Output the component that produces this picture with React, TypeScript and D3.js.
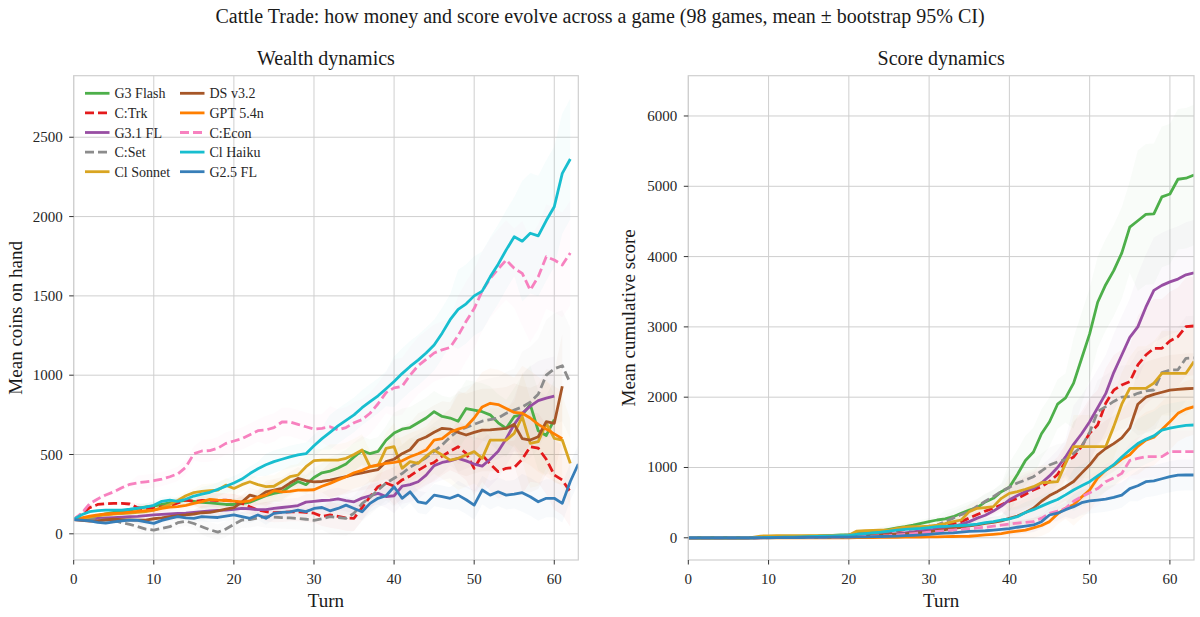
import React, {useEffect, useRef} from 'react'
import * as d3 from 'd3'

// Wealth: mean coins on hand per turn (index = turn)
const wealthG3Flash = [90, 95, 105, 115, 125, 135, 140, 150, 160, 170, 175, 185, 195, 203, 212, 205, 198, 195, 190, 185, 185, 190, 200, 220, 240, 255, 265, 300, 330, 310, 355, 385, 395, 415, 440, 485, 525, 505, 520, 590, 635, 660, 670, 700, 730, 770, 740, 730, 710, 790, 780, 770, 750, 700, 665, 740, 750, 815, 650, 620, 720]
const wealthCTrk = [90, 125, 165, 185, 190, 192, 192, 188, 165, 155, 160, 170, 175, 195, 213, 205, 210, 213, 210, 213, 205, 192, 170, 150, 140, 133, 135, 139, 139, 135, 130, 110, 119, 110, 100, 98, 165, 234, 297, 320, 300, 340, 365, 400, 430, 450, 490, 520, 549, 507, 413, 497, 440, 392, 413, 418, 470, 549, 540, 470, 371, 339, 265]
const wealthG31FL = [90, 88, 92, 98, 100, 102, 105, 108, 110, 115, 119, 122, 125, 128, 130, 135, 140, 145, 148, 150, 155, 160, 158, 152, 152, 160, 166, 172, 178, 200, 205, 210, 213, 220, 210, 202, 225, 240, 255, 235, 240, 300, 310, 328, 370, 430, 450, 460, 476, 460, 440, 427, 470, 520, 600, 690, 760, 805, 840, 855, 868]
const wealthCSet = [90, 95, 92, 88, 86, 86, 70, 60, 45, 30, 24, 35, 45, 70, 80, 65, 45, 25, 11, 30, 60, 87, 90, 100, 108, 105, 102, 100, 97, 92, 85, 95, 108, 103, 98, 130, 190, 230, 276, 320, 350, 380, 420, 450, 480, 520, 560, 610, 650, 670, 690, 710, 720, 730, 760, 780, 800, 830, 880, 1000, 1040, 1060, 950]
const wealthClSonnet = [90, 95, 105, 115, 120, 125, 128, 130, 135, 140, 150, 165, 185, 210, 240, 260, 268, 272, 276, 307, 286, 310, 328, 310, 297, 300, 330, 360, 370, 423, 461, 465, 465, 465, 476, 500, 528, 423, 430, 539, 549, 413, 455, 444, 490, 528, 497, 465, 476, 497, 518, 476, 591, 591, 591, 633, 738, 570, 581, 697, 602, 591, 444]
const wealthDSv32 = [90, 85, 80, 82, 88, 92, 90, 88, 86, 87, 95, 100, 108, 115, 119, 125, 133, 135, 145, 155, 165, 200, 244, 230, 265, 275, 286, 320, 349, 335, 328, 330, 339, 350, 360, 375, 385, 395, 405, 455, 470, 505, 530, 590, 610, 640, 665, 660, 640, 623, 640, 654, 655, 660, 665, 690, 600, 591, 612, 707, 697, 930]
const wealthGPT54n = [90, 100, 112, 120, 125, 128, 132, 136, 142, 146, 150, 160, 168, 172, 180, 192, 203, 217, 212, 210, 206, 202, 208, 230, 244, 272, 265, 268, 276, 276, 278, 300, 318, 340, 360, 385, 400, 423, 435, 444, 450, 460, 486, 505, 528, 591, 600, 640, 660, 675, 730, 800, 823, 815, 790, 765, 760, 730, 690, 660, 630, 600]
const wealthCEcon = [90, 130, 190, 220, 245, 265, 290, 312, 322, 328, 335, 345, 360, 378, 420, 505, 522, 525, 540, 570, 585, 600, 625, 650, 655, 670, 705, 705, 690, 675, 660, 665, 675, 655, 670, 700, 720, 760, 820, 890, 920, 930, 1000, 1060, 1100, 1140, 1160, 1175, 1250, 1340, 1420, 1530, 1610, 1670, 1726, 1674, 1642, 1537, 1621, 1747, 1726, 1695, 1770]
const wealthClHaiku = [90, 120, 140, 146, 150, 150, 150, 155, 162, 168, 180, 205, 212, 205, 218, 238, 250, 262, 280, 300, 320, 345, 380, 410, 435, 455, 470, 485, 497, 505, 555, 600, 640, 680, 715, 750, 795, 833, 870, 915, 960, 1010, 1055, 1095, 1140, 1190, 1265, 1350, 1415, 1450, 1500, 1530, 1620, 1700, 1790, 1873, 1845, 1895, 1878, 1975, 2062, 2272, 2363]
const wealthG25FL = [90, 86, 82, 72, 68, 76, 82, 87, 85, 75, 66, 85, 98, 108, 100, 98, 108, 105, 103, 112, 119, 108, 98, 119, 98, 129, 135, 139, 150, 140, 160, 166, 145, 160, 181, 160, 139, 192, 224, 240, 297, 224, 265, 202, 192, 244, 235, 224, 244, 215, 181, 276, 244, 265, 244, 250, 259, 234, 202, 224, 224, 192, 330, 440]

// Score: mean cumulative score per turn
const scoreG3Flash = [0, 0, 0, 0, 0, 0, 0, 0, 2, 5, 8, 10, 12, 15, 18, 22, 25, 30, 35, 40, 45, 60, 70, 87, 100, 120, 140, 158, 180, 206, 230, 253, 270, 300, 350, 395, 430, 510, 561, 656, 720, 900, 1100, 1220, 1480, 1650, 1900, 1990, 2200, 2550, 2900, 3350, 3600, 3800, 4050, 4420, 4510, 4600, 4607, 4850, 4890, 5100, 5115, 5160]
const scoreCTrk = [0, 0, 0, 0, 0, 0, 0, 0, 0, 2, 4, 6, 8, 10, 12, 15, 18, 20, 22, 25, 28, 35, 45, 55, 70, 85, 100, 115, 130, 145, 150, 160, 180, 200, 230, 280, 330, 380, 420, 470, 520, 560, 620, 680, 727, 800, 900, 1083, 1150, 1300, 1486, 1605, 1913, 2100, 2174, 2221, 2458, 2600, 2695, 2695, 2800, 2861, 3003, 3013]
const scoreG31FL = [0, 0, 0, 0, 0, 0, 0, 0, 0, 2, 4, 6, 8, 10, 12, 15, 18, 20, 24, 28, 32, 35, 40, 45, 50, 55, 60, 70, 85, 100, 110, 125, 140, 160, 190, 230, 280, 320, 380, 450, 540, 600, 660, 700, 780, 880, 1000, 1150, 1330, 1480, 1650, 1850, 2050, 2350, 2600, 2850, 3000, 3280, 3520, 3590, 3640, 3680, 3740, 3770]
const scoreCSet = [0, 0, 0, 0, 0, 0, 0, 0, 0, 2, 4, 6, 8, 10, 14, 18, 22, 26, 30, 35, 40, 50, 60, 70, 80, 95, 110, 120, 130, 140, 150, 180, 230, 280, 330, 372, 450, 520, 585, 660, 720, 780, 822, 869, 950, 1035, 1080, 1107, 1200, 1300, 1500, 1794, 1865, 1940, 2000, 2008, 2055, 2090, 2102, 2350, 2387, 2390, 2553, 2560]
const scoreClSonnet = [0, 0, 0, 0, 0, 0, 0, 0, 5, 25, 28, 30, 30, 30, 30, 32, 32, 32, 35, 35, 35, 95, 100, 105, 110, 110, 134, 150, 158, 160, 165, 180, 200, 230, 253, 372, 419, 430, 443, 561, 632, 656, 690, 727, 783, 790, 798, 1059, 1296, 1296, 1296, 1296, 1296, 1581, 1900, 2126, 2126, 2126, 2200, 2340, 2340, 2340, 2340, 2506]
const scoreDSv32 = [0, 0, 0, 0, 0, 0, 0, 0, 0, 1, 2, 3, 4, 5, 6, 8, 10, 12, 14, 16, 18, 25, 30, 35, 40, 45, 50, 55, 65, 73, 85, 101, 115, 134, 150, 168, 185, 206, 220, 240, 277, 310, 360, 420, 520, 600, 660, 727, 800, 920, 1035, 1180, 1270, 1340, 1420, 1560, 1900, 2000, 2040, 2070, 2100, 2110, 2120, 2126]
const scoreGPT54n = [0, 0, 0, 0, 0, 0, 0, 0, 0, 0, 0, 0, 0, 0, 0, 0, 0, 0, 0, 0, 0, 2, 3, 4, 5, 6, 7, 8, 9, 10, 12, 14, 16, 18, 20, 22, 30, 40, 50, 60, 80, 95, 110, 140, 175, 230, 340, 420, 470, 580, 680, 850, 960, 1030, 1120, 1180, 1300, 1390, 1430, 1540, 1650, 1770, 1830, 1865]
const scoreCEcon = [0, 0, 0, 0, 0, 0, 0, 0, 0, 0, 1, 2, 3, 4, 5, 6, 7, 8, 9, 10, 12, 15, 18, 22, 26, 30, 40, 50, 60, 70, 80, 90, 100, 110, 120, 130, 140, 150, 165, 180, 195, 210, 220, 229, 280, 347, 380, 419, 520, 585, 640, 700, 798, 850, 916, 1100, 1130, 1154, 1154, 1154, 1225, 1225, 1225, 1225]
const scoreClHaiku = [0, 0, 0, 0, 0, 0, 0, 0, 0, 2, 4, 6, 8, 10, 12, 15, 18, 22, 26, 30, 35, 50, 60, 70, 80, 95, 110, 120, 128, 134, 145, 158, 162, 168, 175, 182, 195, 215, 230, 253, 270, 300, 360, 400, 450, 500, 545, 610, 680, 740, 798, 880, 960, 1040, 1150, 1249, 1340, 1400, 1450, 1533, 1560, 1581, 1600, 1604]
const scoreG25FL = [0, 0, 0, 0, 0, 0, 0, 0, 0, 0, 0, 1, 2, 3, 4, 5, 6, 7, 8, 9, 10, 12, 14, 16, 18, 20, 25, 30, 35, 40, 50, 60, 65, 70, 80, 90, 95, 100, 110, 120, 130, 150, 165, 182, 229, 324, 350, 400, 443, 500, 525, 537, 550, 575, 608, 700, 740, 798, 810, 840, 869, 890, 893, 893]

// bootstrap 95% CI half-widths, one value per block of 8 turns
const ciWealthG3Flash = [10, 25, 40, 60, 90, 130, 180, 250]
const ciWealthCTrk = [10, 30, 45, 60, 80, 120, 170, 220]
const ciWealthG31FL = [10, 20, 35, 50, 70, 110, 170, 250]
const ciWealthCSet = [10, 30, 50, 70, 110, 180, 260, 350]
const ciWealthClSonnet = [10, 25, 45, 70, 100, 150, 200, 280]
const ciWealthDSv32 = [10, 25, 45, 70, 110, 170, 260, 330]
const ciWealthGPT54n = [10, 25, 45, 70, 100, 150, 220, 300]
const ciWealthCEcon = [15, 45, 70, 90, 130, 180, 250, 330]
const ciWealthClHaiku = [10, 25, 45, 70, 110, 160, 250, 380]
const ciWealthG25FL = [10, 20, 30, 40, 55, 70, 90, 120]

const ciScoreG3Flash = [0, 10, 25, 50, 120, 350, 650, 1000]
const ciScoreCTrk = [0, 8, 20, 40, 90, 250, 500, 700]
const ciScoreG31FL = [0, 8, 20, 40, 90, 250, 550, 750]
const ciScoreCSet = [0, 8, 20, 40, 100, 250, 450, 600]
const ciScoreClSonnet = [0, 10, 20, 40, 100, 250, 450, 600]
const ciScoreDSv32 = [0, 8, 15, 30, 80, 200, 400, 500]
const ciScoreGPT54n = [0, 5, 10, 20, 50, 150, 300, 400]
const ciScoreCEcon = [0, 5, 10, 20, 60, 150, 250, 300]
const ciScoreClHaiku = [0, 8, 15, 30, 70, 150, 300, 350]
const ciScoreG25FL = [0, 5, 10, 20, 50, 100, 180, 220]

const xTicks = [0, 10, 20, 30, 40, 50, 60]
const wealthTicks = [0, 500, 1000, 1500, 2000, 2500]
const scoreTicks = [0, 1000, 2000, 3000, 4000, 5000, 6000]

type Model = {
    name: string
    color: string
    dashed: boolean
    wealth: number[]
    score: number[]
    ciWealth: number[]
    ciScore: number[]
}

const models: Model[] = [
    {name: 'G3 Flash', color: '#4daf4a', dashed: false, wealth: wealthG3Flash, score: scoreG3Flash, ciWealth: ciWealthG3Flash, ciScore: ciScoreG3Flash},
    {name: 'C:Trk', color: '#e41a1c', dashed: true, wealth: wealthCTrk, score: scoreCTrk, ciWealth: ciWealthCTrk, ciScore: ciScoreCTrk},
    {name: 'G3.1 FL', color: '#984ea3', dashed: false, wealth: wealthG31FL, score: scoreG31FL, ciWealth: ciWealthG31FL, ciScore: ciScoreG31FL},
    {name: 'C:Set', color: '#8c8c8c', dashed: true, wealth: wealthCSet, score: scoreCSet, ciWealth: ciWealthCSet, ciScore: ciScoreCSet},
    {name: 'Cl Sonnet', color: '#d9a521', dashed: false, wealth: wealthClSonnet, score: scoreClSonnet, ciWealth: ciWealthClSonnet, ciScore: ciScoreClSonnet},
    {name: 'DS v3.2', color: '#a65628', dashed: false, wealth: wealthDSv32, score: scoreDSv32, ciWealth: ciWealthDSv32, ciScore: ciScoreDSv32},
    {name: 'GPT 5.4n', color: '#ff7f00', dashed: false, wealth: wealthGPT54n, score: scoreGPT54n, ciWealth: ciWealthGPT54n, ciScore: ciScoreGPT54n},
    {name: 'C:Econ', color: '#f781bf', dashed: true, wealth: wealthCEcon, score: scoreCEcon, ciWealth: ciWealthCEcon, ciScore: ciScoreCEcon},
    {name: 'Cl Haiku', color: '#17becf', dashed: false, wealth: wealthClHaiku, score: scoreClHaiku, ciWealth: ciWealthClHaiku, ciScore: ciScoreClHaiku},
    {name: 'G2.5 FL', color: '#377eb8', dashed: false, wealth: wealthG25FL, score: scoreG25FL, ciWealth: ciWealthG25FL, ciScore: ciScoreG25FL},
]

const FONT = '"Liberation Serif", "DejaVu Serif", "Times New Roman", serif'
const W = 1200
const H = 617

export default function App() {
    const svgRef = useRef<SVGSVGElement>(null)

    useEffect(() => {
        const svg = d3.select(svgRef.current)
        svg.selectAll('*').remove()
        svg.attr('font-family', FONT)

        svg.append('text')
            .attr('x', 600).attr('y', 23)
            .attr('text-anchor', 'middle')
            .attr('font-size', 20)
            .attr('fill', '#1a1a1a')
            .text('Cattle Trade: how money and score evolve across a game (98 games, mean ± bootstrap 95% CI)')

        const top = 75.7
        const bottom = 560

        const panels = [
            {
                key: 'wealth' as const, title: 'Wealth dynamics', ylabel: 'Mean coins on hand',
                x0: 73.7, x1: 578.3, yDomain: [-165, 2888], ticks: wealthTicks, ylabelX: 16, clampZero: false,
            },
            {
                key: 'score' as const, title: 'Score dynamics', ylabel: 'Mean cumulative score',
                x0: 688.3, x1: 1194, yDomain: [-316, 6573], ticks: scoreTicks, ylabelX: 629, clampZero: true,
            },
        ]

        panels.forEach((p, pi) => {
            const x = d3.scaleLinear().domain([0, 63]).range([p.x0, p.x1])
            const y = d3.scaleLinear().domain(p.yDomain).range([bottom, top])
            const g = svg.append('g')

            const clipId = `clip-${pi}`
            svg.append('clipPath').attr('id', clipId)
                .append('rect')
                .attr('x', p.x0).attr('y', top)
                .attr('width', p.x1 - p.x0).attr('height', bottom - top)

            // grid
            g.selectAll('line.vg').data(xTicks).join('line')
                .attr('x1', d => x(d)).attr('x2', d => x(d))
                .attr('y1', top).attr('y2', bottom)
                .attr('stroke', '#cfcfcf').attr('stroke-width', 1)
            g.selectAll('line.hg').data(p.ticks).join('line')
                .attr('x1', p.x0).attr('x2', p.x1)
                .attr('y1', d => y(d)).attr('y2', d => y(d))
                .attr('stroke', '#cfcfcf').attr('stroke-width', 1)

            const plot = g.append('g').attr('clip-path', `url(#${clipId})`)

            // confidence bands (very faint)
            models.forEach(m => {
                const vals = p.key === 'wealth' ? m.wealth : m.score
                const ci = p.key === 'wealth' ? m.ciWealth : m.ciScore
                const hw = (i: number) => ci[Math.min(Math.floor(i / 8), ci.length - 1)]
                const area = d3.area<number>()
                    .x((_, i) => x(i))
                    .y0((d, i) => y(p.clampZero ? Math.max(0, d - hw(i)) : d - hw(i)))
                    .y1((d, i) => y(d + hw(i)))
                plot.append('path')
                    .attr('d', area(vals) as string)
                    .attr('fill', m.color)
                    .attr('fill-opacity', 0.035)
                    .attr('stroke', 'none')
            })

            // mean lines
            models.forEach(m => {
                const vals = p.key === 'wealth' ? m.wealth : m.score
                const line = d3.line<number>().x((_, i) => x(i)).y(d => y(d))
                plot.append('path')
                    .attr('d', line(vals) as string)
                    .attr('fill', 'none')
                    .attr('stroke', m.color)
                    .attr('stroke-width', 2.8)
                    .attr('stroke-linejoin', 'round')
                    .attr('stroke-dasharray', m.dashed ? '9,4' : null)
            })

            // frame
            g.append('rect')
                .attr('x', p.x0).attr('y', top)
                .attr('width', p.x1 - p.x0).attr('height', bottom - top)
                .attr('fill', 'none').attr('stroke', '#cfcfcf').attr('stroke-width', 1.2)

            // x ticks
            g.selectAll('line.xt').data(xTicks).join('line')
                .attr('x1', d => x(d)).attr('x2', d => x(d))
                .attr('y1', bottom).attr('y2', bottom + 4.5)
                .attr('stroke', '#333').attr('stroke-width', 1)
            g.selectAll('text.xl').data(xTicks).join('text')
                .attr('x', d => x(d)).attr('y', 584)
                .attr('text-anchor', 'middle')
                .attr('font-size', 15).attr('fill', '#262626')
                .text(d => String(d))

            // y ticks
            g.selectAll('line.yt').data(p.ticks).join('line')
                .attr('x1', p.x0 - 4.5).attr('x2', p.x0)
                .attr('y1', d => y(d)).attr('y2', d => y(d))
                .attr('stroke', '#333').attr('stroke-width', 1)
            g.selectAll('text.yl').data(p.ticks).join('text')
                .attr('x', p.x0 - 11).attr('y', d => y(d) + 5)
                .attr('text-anchor', 'end')
                .attr('font-size', 15).attr('fill', '#262626')
                .text(d => String(d))

            // labels
            g.append('text')
                .attr('x', (p.x0 + p.x1) / 2).attr('y', 607)
                .attr('text-anchor', 'middle')
                .attr('font-size', 19).attr('fill', '#1a1a1a')
                .text('Turn')
            g.append('text')
                .attr('transform', `translate(${p.ylabelX + 6},${(top + bottom) / 2}) rotate(-90)`)
                .attr('text-anchor', 'middle')
                .attr('font-size', 19).attr('fill', '#1a1a1a')
                .text(p.ylabel)
            g.append('text')
                .attr('x', (p.x0 + p.x1) / 2).attr('y', 65)
                .attr('text-anchor', 'middle')
                .attr('font-size', 20).attr('fill', '#1a1a1a')
                .text(p.title)

            // legend (wealth panel only)
            if (p.key === 'wealth') {
                const leg = g.append('g')
                models.forEach((m, i) => {
                    const col = Math.floor(i / 5)
                    const row = i % 5
                    const lx = col === 0 ? 85 : 180
                    const ly = 93.3 + row * 19.6
                    leg.append('line')
                        .attr('x1', lx).attr('x2', lx + 24.5)
                        .attr('y1', ly).attr('y2', ly)
                        .attr('stroke', m.color).attr('stroke-width', 2.8)
                        .attr('stroke-dasharray', m.dashed ? '9,4' : null)
                    leg.append('text')
                        .attr('x', lx + 29.5).attr('y', ly + 5)
                        .attr('font-size', 14).attr('fill', '#262626')
                        .text(m.name)
                })
            }
        })
    }, [])

    return (
        <div style={{position: 'absolute', left: 0, top: 0, width: W, height: H, background: '#fff'}}>
            <svg ref={svgRef} width={W} height={H} viewBox={`0 0 ${W} ${H}`} />
        </div>
    )
}
